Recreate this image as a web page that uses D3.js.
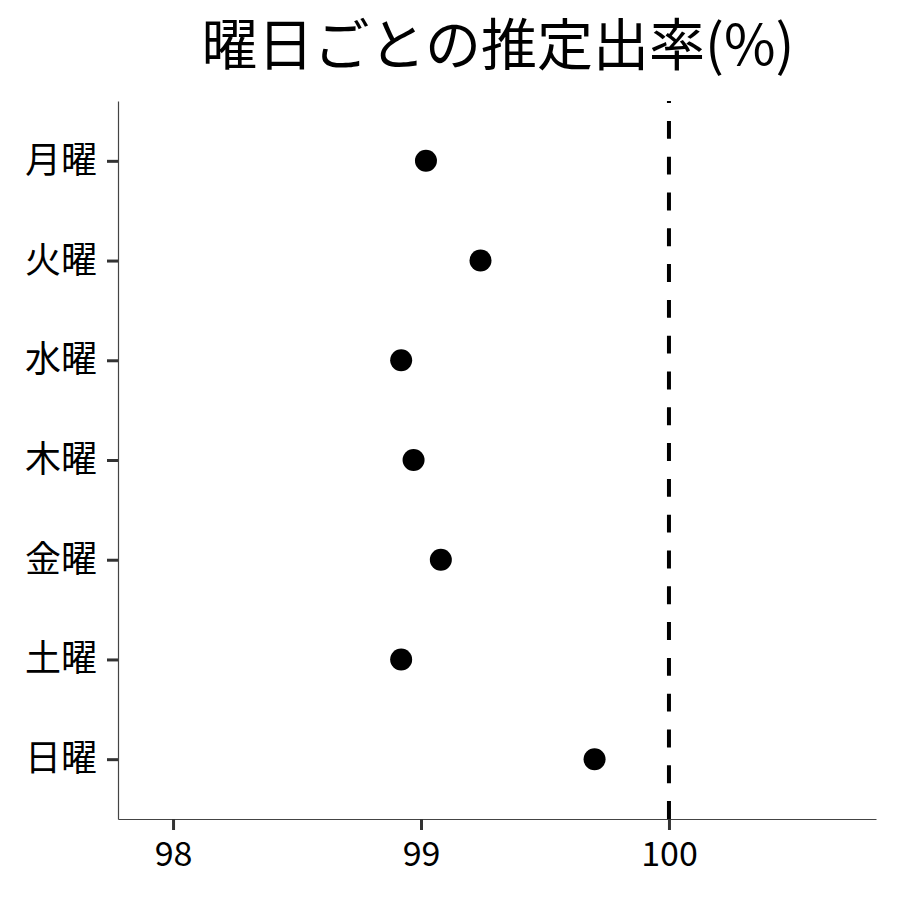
<!DOCTYPE html>
<html>
<head>
<meta charset="utf-8">
<script src="https://cdn.jsdelivr.net/npm/d3@7"></script>
<style>
  body { margin: 0; background: #fff; }
  svg { display: block; font-family: "Noto Sans CJK JP", "Noto Sans", sans-serif; }
</style>
</head>
<body>
<div id="chart"></div>
<script>
// days (top to bottom) and estimated rates (%)
const days = ["月曜", "火曜", "水曜", "木曜", "金曜", "土曜", "日曜"];
const rates = [99.02, 99.24, 98.92, 98.97, 99.08, 98.92, 99.70];
const xTicks = [98, 99, 100];
const refLine = 100;
const title = "曜日ごとの推定出率(%)";

const width = 900, height = 900;
const margin = { top: 101, right: 24, bottom: 81, left: 118 };

const svg = d3.select("#chart").append("svg")
  .attr("width", width)
  .attr("height", height);

const x = d3.scaleLinear()
  .domain([97.778, 100.835])
  .range([margin.left, width - margin.right]);

const y = d3.scalePoint()
  .domain(days)
  .range([margin.top, height - margin.bottom])
  .padding(0.6);

// title
svg.append("text")
  .attr("x", (margin.left + width - margin.right) / 2 + 1)
  .attr("y", 65)
  .attr("text-anchor", "middle")
  .attr("font-size", 56)
  .attr("fill", "#000")
  .text(title);

// reference line, dashed, drawn from the bottom up like ggplot
svg.append("line")
  .attr("x1", x(refLine)).attr("x2", x(refLine))
  .attr("y1", height - margin.bottom).attr("y2", margin.top)
  .attr("stroke", "#000")
  .attr("stroke-width", 4)
  .attr("stroke-dasharray", "17.9,17.9");

// points
svg.append("g")
  .selectAll("circle")
  .data(days)
  .join("circle")
  .attr("cx", (d, i) => x(rates[i]))
  .attr("cy", d => y(d))
  .attr("r", 11)
  .attr("fill", "#000");

// x axis
const xAxis = svg.append("g")
  .attr("transform", `translate(0,${height - margin.bottom})`)
  .call(d3.axisBottom(x).tickValues(xTicks).tickSize(11).tickSizeOuter(0).tickPadding(12).tickFormat(d3.format("d")));
xAxis.select(".domain").attr("stroke", "#444").attr("stroke-width", 1.2);
xAxis.selectAll(".tick line").attr("stroke", "#333").attr("stroke-width", 3);
xAxis.selectAll(".tick text")
  .attr("font-size", 34)
  .attr("fill", "#000")
  .attr("font-family", "\"Noto Sans CJK JP\", sans-serif");

// y axis
const yAxis = svg.append("g")
  .attr("transform", `translate(${margin.left},0)`)
  .call(d3.axisLeft(y).tickSize(11).tickSizeOuter(0).tickPadding(10));
yAxis.select(".domain").attr("stroke", "#444").attr("stroke-width", 1.2);
yAxis.selectAll(".tick line").attr("stroke", "#333").attr("stroke-width", 3);
yAxis.selectAll(".tick text")
  .attr("font-size", 36)
  .attr("fill", "#000")
  .attr("font-family", "\"Noto Sans CJK JP\", sans-serif");
</script>
</body>
</html>
